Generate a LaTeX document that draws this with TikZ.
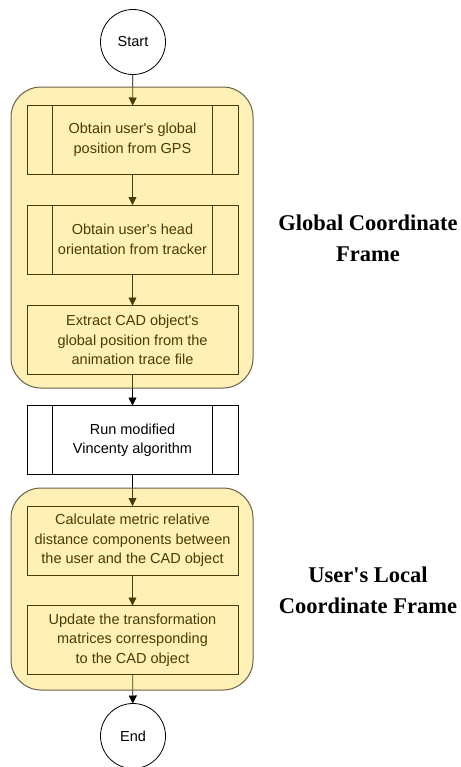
\documentclass[tikz,border=0pt]{standalone}
\usepackage{fontspec}
\setmainfont{Liberation Serif}
\newfontfamily\boxfont{Liberation Sans}
\usetikzlibrary{arrows.meta}
\definecolor{tint}{RGB}{255,205,0}
\definecolor{groupline}{RGB}{104,97,72}
\newcommand{\ap}{\textquotesingle}
\begin{document}
\begin{tikzpicture}[x=1bp,y=-1bp,
  every node/.style={inner sep=0pt, outer sep=0pt},
  terminal/.style={draw=black, line width=0.8bp, circle, minimum size=65bp,
    font=\boxfont\fontsize{14.5bp}{17bp}\selectfont},
  stepbox/.style={draw=black, line width=0.8bp, rectangle, minimum width=211bp,
    minimum height=69bp, align=center, fill=white,
    font=\boxfont\fontsize{14.5bp}{19.5bp}\selectfont},
  subproc/.style={stepbox, path picture={
      \draw[line width=0.8bp] ([xshift=25bp]path picture bounding box.north west)
        -- ([xshift=25bp]path picture bounding box.south west);
      \draw[line width=0.8bp] ([xshift=-26bp]path picture bounding box.north east)
        -- ([xshift=-26bp]path picture bounding box.south east);}},
  flow/.style={draw=black, line width=0.8bp, -{Triangle[length=8bp,width=8bp]}},
  group/.style={fill=tint, fill opacity=0.29, draw=groupline, draw opacity=1,
    line width=1bp, rounded corners=30bp},
  title/.style={align=center, font=\bfseries\fontsize{22.5bp}{31bp}\selectfont}
]
\useasboundingbox[fill=white] (0,0) rectangle (461,767);

% flow nodes
\node[terminal] (start) at (133,42) {Start};
\node[subproc] (gps) at (132.5,140) {Obtain user\ap s global\\position from GPS};
\node[subproc] (head) at (132.5,239.5) {Obtain user\ap s head\\orientation from tracker};
\node[stepbox] (cad) at (132.5,340) {Extract CAD object\ap s\\global position from the\\animation trace file};
\node[subproc] (vin) at (132.5,440) {Run modified\\Vincenty algorithm};
\node[stepbox] (dist) at (132.5,540.5) {Calculate metric relative\\distance components between\\the user and the CAD object};
\node[stepbox] (upd) at (132.5,640) {Update the transformation\\matrices corresponding\\to the CAD object};
\node[terminal] (end) at (133,736) {End};

% connectors
\draw[flow] (start) -- (gps);
\draw[flow] (gps) -- (head);
\draw[flow] (head) -- (cad);
\draw[flow] (cad) -- (vin);
\draw[flow] (vin) -- (dist);
\draw[flow] (dist) -- (upd);
\draw[flow] (upd) -- (end);

% translucent frame groups laid over the steps
\draw[group] (11,87) rectangle (253,388);
\draw[group] (11,488) rectangle (253,690);

% frame titles
\node[title] (gtitle) at (368,238) {Global Coordinate\\Frame};
\node[title] (ltitle) at (368,590) {User\ap s Local\\Coordinate Frame};
\end{tikzpicture}
\end{document}
